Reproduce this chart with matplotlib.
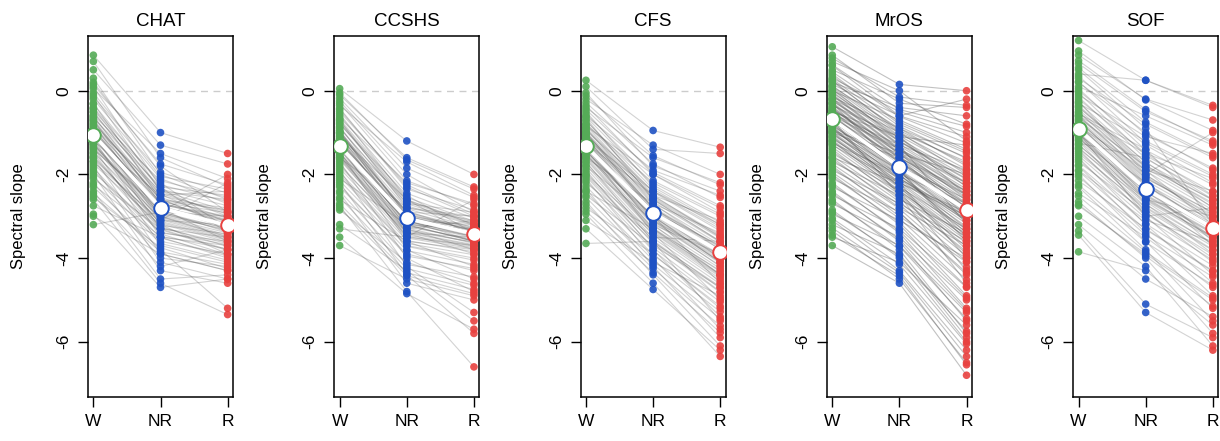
import matplotlib
matplotlib.use("Agg")
import matplotlib.pyplot as plt

plt.rcParams['font.family'] = ['Liberation Sans', 'DejaVu Sans']

studies = ["CHAT", "CCSHS", "CFS", "MrOS", "SOF"]
stages = ["W", "NR", "R"]
ytick_values = [0, -2, -4, -6]

# per-subject spectral slopes (index-aligned across stages)
chat_w = [0.85, 0.70, 0.50, 0.30, 0.20, 0.10, 0.05, -0.10, -0.20, -0.30, -0.40, -0.50, -0.60, -0.65, -0.70,
          -0.75, -0.80, -0.85, -0.90, -0.95, -1.00, -1.05, -1.10, -1.15, -1.20, -1.25, -1.30, -1.35, -1.40, -1.50,
          -1.60, -1.70, -1.80, -1.90, -2.00, -2.10, -2.20, -2.30, -2.40, -2.50, -2.60, -2.75, -2.95, -3.00, -3.20,
          -0.32, -0.45, -0.52, -0.58, -0.63, -0.72, -0.78, -0.83, -0.88, -0.93, -0.98, -1.02, -1.07, -1.12, -1.17,
          -1.22, -1.27, -1.33, -1.38, -1.44, -1.48, -1.55, -1.62, -1.68, -1.75, -0.15, -0.05, 0.15, -1.85, -1.95,
          -2.05, -2.25, -2.45, -2.55, -0.42, -0.68, -0.92, -1.08, -1.28, -1.58]
chat_nr = [-1.0, -1.6, -1.3, -2.0, -1.8, -2.3, -1.5, -2.4, -2.1, -2.6, -2.2, -2.5, -2.7, -2.3, -2.9,
           -2.6, -3.0, -2.4, -2.8, -3.1, -2.7, -3.3, -2.9, -3.5, -2.5, -3.2, -3.0, -3.7, -2.8, -3.4,
           -3.9, -3.1, -4.1, -3.6, -4.3, -3.3, -4.0, -3.8, -4.5, -4.2, -4.6, -3.5, -4.7, -3.9, -2.9,
           -2.25, -2.35, -2.45, -2.15, -2.55, -2.62, -2.48, -2.72, -2.58, -2.85, -2.66, -2.92, -2.75, -3.02, -2.82,
           -3.12, -2.95, -3.18, -2.88, -3.25, -3.05, -3.32, -3.15, -3.42, -3.22, -1.95, -2.05, -1.75, -3.52, -3.38,
           -3.65, -3.48, -3.85, -3.75, -2.38, -2.68, -2.78, -2.98, -3.08, -3.28]
chat_r = [-1.5, -2.3, -1.75, -2.6, -2.9, -2.5, -2.1, -3.0, -2.7, -2.8, -3.3, -2.9, -3.1, -3.4, -3.0,
          -3.2, -3.5, -2.6, -3.6, -3.2, -3.0, -3.8, -3.3, -3.7, -2.4, -3.9, -3.4, -4.1, -3.1, -3.6,
          -4.3, -2.2, -4.5, -3.9, -4.6, -3.5, -4.2, -5.2, -4.4, -3.8, -5.35, -4.0, -4.5, -4.3, -2.0,
          -2.65, -2.75, -2.95, -2.55, -3.05, -2.85, -3.15, -3.02, -3.25, -3.12, -2.92, -3.35, -3.22, -3.45, -3.18,
          -3.55, -3.28, -3.62, -3.38, -3.72, -3.48, -3.82, -3.58, -3.92, -3.42, -2.45, -2.35, -2.25, -3.95, -3.68,
          -4.05, -3.78, -4.15, -4.25, -2.88, -3.08, -3.28, -3.32, -3.52, -3.65]

ccshs_w = [0.05, -0.10, -0.25, -0.35, -0.45, -0.55, -0.65, -0.70, -0.80, -0.85, -0.90, -0.95, -1.00, -1.05, -1.10,
           -1.15, -1.20, -1.25, -1.30, -1.35, -1.40, -1.45, -1.50, -1.55, -1.60, -1.70, -1.80, -1.90, -2.00, -2.10,
           -2.20, -2.30, -2.45, -2.60, -2.75, -2.85, -3.20, -3.30, -3.50, -3.70, -1.00, -1.25, -0.75, -1.60, -1.20,
           -0.05, -0.18, -0.30, -0.42, -0.50, -0.60, -0.68, -0.78, -0.88, -0.98, -1.02, -1.08, -1.12, -1.18, -1.22,
           -1.28, -1.33, -1.38, -1.42, -1.48, -1.52, -1.58, -1.65, -1.75, -1.85, -1.95, -2.05, -2.15, -2.25, -2.40,
           -2.55, -2.70, -2.80, -0.95, -1.15, -1.35, -1.55, -0.72, -1.02, -1.62]
ccshs_nr = [-1.2, -1.6, -2.0, -1.7, -2.3, -2.6, -2.2, -2.8, -2.5, -3.0, -2.7, -3.2, -2.9, -3.3, -2.6,
            -3.1, -3.4, -2.9, -3.6, -3.0, -3.3, -3.8, -3.1, -3.5, -2.8, -4.0, -3.4, -4.2, -3.7, -3.2,
            -4.4, -3.9, -4.6, -3.6, -4.8, -4.1, -4.3, -3.5, -4.85, -4.5, -3.1, -3.2, -2.7, -3.4, -3.0,
            -1.65, -1.85, -2.15, -2.35, -2.25, -2.45, -2.55, -2.65, -2.75, -2.82, -2.95, -3.02, -2.88, -3.12, -3.08,
            -3.18, -3.15, -3.25, -3.22, -3.32, -3.28, -3.38, -3.45, -3.52, -3.58, -3.65, -3.72, -3.82, -3.95, -4.15,
            -4.25, -4.35, -4.42, -2.98, -3.05, -3.12, -3.35, -2.62, -2.92, -3.48]
ccshs_r = [-2.0, -2.3, -2.9, -2.5, -3.0, -3.2, -2.7, -3.1, -3.4, -3.3, -2.9, -3.6, -3.0, -3.8, -3.5,
           -3.2, -3.9, -3.3, -4.2, -3.4, -3.1, -4.5, -3.6, -3.7, -3.0, -4.8, -3.5, -5.3, -4.0, -3.3,
           -5.8, -4.3, -5.0, -3.8, -6.6, -4.6, -5.5, -2.6, -5.7, -4.9, -3.5, -3.6, -3.2, -3.7, -3.4,
           -2.35, -2.55, -2.75, -2.85, -2.95, -3.05, -3.12, -3.18, -3.22, -3.28, -3.35, -3.32, -3.38, -3.45, -3.42,
           -3.48, -3.52, -3.55, -3.58, -3.62, -3.65, -3.68, -3.72, -3.78, -3.85, -3.92, -4.05, -4.15, -4.25, -4.45,
           -4.65, -4.75, -4.85, -3.25, -3.38, -3.48, -3.62, -3.15, -3.35, -3.75]

cfs_w = [0.25, 0.10, -0.05, -0.20, -0.35, -0.50, -0.60, -0.70, -0.80, -0.90, -0.95, -1.00, -1.05, -1.10, -1.15,
         -1.20, -1.25, -1.30, -1.35, -1.40, -1.45, -1.50, -1.60, -1.70, -1.80, -1.90, -2.00, -2.10, -2.20, -2.35,
         -2.50, -2.65, -2.80, -2.95, -3.10, -3.30, -3.65, -0.40, -0.85, -1.15, -1.55, -1.00, -1.35, -0.65, -2.40,
         -0.12, -0.28, -0.45, -0.55, -0.62, -0.72, -0.78, -0.88, -0.92, -0.98, -1.02, -1.08, -1.12, -1.18, -1.22,
         -1.28, -1.32, -1.38, -1.42, -1.48, -1.52, -1.58, -1.65, -1.72, -1.78, -1.85, -1.95, -2.05, -2.15, -2.28,
         -2.42, -2.55, -2.72, -2.88, -1.05, -1.25, -1.45, -0.82, -1.62, -2.02]
cfs_nr = [-0.95, -1.4, -1.8, -1.3, -2.0, -2.3, -1.9, -2.5, -2.2, -2.7, -2.4, -2.9, -2.6, -3.1, -2.8,
          -3.0, -2.5, -3.2, -2.9, -3.4, -3.0, -3.3, -2.7, -3.6, -3.1, -3.8, -3.4, -4.0, -3.5, -4.2,
          -3.7, -4.4, -3.9, -4.6, -4.1, -4.75, -3.6, -1.6, -2.0, -2.4, -3.0, -2.8, -3.2, -2.6, -3.3,
          -1.55, -1.75, -1.95, -2.15, -2.25, -2.35, -2.42, -2.52, -2.58, -2.65, -2.72, -2.78, -2.85, -2.88, -2.95,
          -3.02, -3.05, -3.12, -3.15, -3.22, -3.28, -3.32, -3.38, -3.45, -3.52, -3.58, -3.65, -3.75, -3.82, -3.92,
          -4.05, -4.15, -4.25, -4.35, -2.82, -2.98, -3.08, -2.55, -3.35, -3.62]
cfs_r = [-1.35, -1.5, -2.4, -2.0, -2.8, -3.2, -2.5, -3.5, -3.0, -3.8, -3.3, -4.0, -3.6, -4.2, -3.9,
         -4.6, -3.1, -4.4, -3.7, -5.0, -4.1, -4.3, -3.4, -4.8, -4.0, -5.4, -4.5, -5.7, -3.6, -5.9,
         -4.7, -6.1, -5.2, -6.35, -4.9, -6.2, -5.5, -2.2, -2.9, -3.2, -4.1, -3.8, -3.9, -3.6, -4.4,
         -2.25, -2.55, -2.75, -2.95, -3.15, -3.25, -3.35, -3.45, -3.52, -3.62, -3.68, -3.75, -3.82, -3.88, -3.92,
         -3.98, -4.05, -4.12, -4.18, -4.25, -4.32, -4.38, -4.45, -4.55, -4.62, -4.72, -4.82, -4.95, -5.05, -5.15,
         -5.28, -5.45, -5.62, -5.78, -3.72, -3.95, -4.08, -3.48, -4.42, -4.68]

mros_w = [1.05, 0.85, 0.70, 0.60, 0.50, 0.40, 0.30, 0.25, 0.20, 0.10, 0.05, 0.00, -0.05, -0.10, -0.15,
          -0.20, -0.25, -0.30, -0.35, -0.40, -0.45, -0.50, -0.55, -0.60, -0.65, -0.70, -0.75, -0.80, -0.85, -0.90,
          -0.95, -1.00, -1.05, -1.10, -1.15, -1.20, -1.30, -1.40, -1.50, -1.60, -1.70, -1.80, -1.90, -2.00, -2.10,
          -2.20, -2.30, -2.40, -2.50, -2.60, -2.70, -2.85, -2.95, -3.10, -3.20, -3.35, -3.50, -3.70, -0.20, -0.45,
          -0.60, -0.85, -1.00, -0.30, 0.15, -1.25, -0.70, -0.50, -1.60, -0.95,
          0.78, 0.62, 0.45, 0.35, 0.28, 0.22, 0.12, 0.08, 0.02, -0.02, -0.08, -0.12, -0.18, -0.22, -0.28,
          -0.32, -0.38, -0.42, -0.48, -0.52, -0.58, -0.62, -0.68, -0.72, -0.78, -0.82, -0.88, -0.92, -0.98, -1.02,
          -1.08, -1.12, -1.18, -1.22, -1.28, -1.35, -1.45, -1.55, -1.65, -1.75, -1.85, -1.95, -2.05, -2.25, -2.45,
          -2.65, -2.90, -3.05, -3.28, -3.45]
mros_nr = [0.15, -0.3, 0.0, -0.6, -0.2, -0.8, -0.5, -1.0, -0.4, -0.9, -1.2, -0.7, -1.1, -1.3, -0.9,
           -1.4, -1.2, -1.5, -1.1, -1.6, -1.4, -1.7, -1.3, -1.8, -1.6, -1.9, -1.7, -2.0, -1.8, -2.1,
           -1.9, -2.2, -2.0, -2.3, -2.1, -2.4, -2.2, -2.6, -2.4, -2.8, -2.5, -3.0, -2.7, -3.2, -2.9,
           -3.4, -3.1, -3.6, -3.3, -3.8, -3.5, -4.0, -3.7, -4.3, -3.9, -4.5, -4.1, -4.6, -1.0, -1.5,
           -1.4, -2.3, -1.6, -1.9, -0.6, -2.0, -2.5, -1.1, -2.2, -1.5,
           -0.15, -0.45, -0.62, -0.75, -0.85, -0.95, -1.02, -1.08, -1.15, -1.22, -1.28, -1.32, -1.38, -1.42, -1.48,
           -1.52, -1.58, -1.62, -1.68, -1.72, -1.78, -1.82, -1.85, -1.88, -1.92, -1.95, -2.02, -2.08, -2.12, -2.18,
           -2.22, -2.28, -2.32, -2.38, -2.42, -2.48, -2.55, -2.65, -2.72, -2.82, -2.92, -3.05, -3.15, -3.35, -3.55,
           -3.72, -3.95, -4.15, -4.35, -4.42]
mros_r = [0.0, -0.4, -1.2, -0.2, -0.8, -1.5, -1.0, -2.0, -0.6, -1.8, -2.2, -1.4, -2.5, -1.9, -1.6,
          -2.6, -2.1, -2.8, -2.3, -3.0, -2.4, -2.7, -3.2, -2.9, -2.5, -3.1, -2.8, -3.4, -2.6, -3.0,
          -3.6, -2.9, -3.3, -3.8, -3.1, -3.5, -4.0, -3.4, -4.3, -3.7, -4.6, -4.1, -3.6, -4.9, -4.4,
          -5.2, -4.0, -5.5, -4.7, -5.8, -5.0, -6.0, -5.3, -6.2, -5.9, -6.5, -5.6, -6.8, -1.7, -2.5,
          -2.2, -3.3, -2.4, -3.5, -1.1, -2.7, -3.9, -1.3, -3.0, -2.0,
          -0.35, -0.85, -1.25, -1.45, -1.62, -1.75, -1.88, -1.95, -2.05, -2.12, -2.22, -2.28, -2.35, -2.42, -2.48,
          -2.55, -2.62, -2.68, -2.72, -2.78, -2.85, -2.88, -2.92, -2.98, -3.02, -3.08, -3.12, -3.18, -3.25, -3.32,
          -3.38, -3.45, -3.52, -3.58, -3.65, -3.72, -3.85, -3.95, -4.08, -4.22, -4.35, -4.52, -4.68, -4.95, -5.25,
          -5.45, -5.75, -6.05, -6.35, -6.55]

sof_w = [1.20, 0.85, 0.65, 0.40, 0.30, 0.20, 0.10, 0.00, -0.10, -0.20, -0.30, -0.40, -0.50, -0.55, -0.60,
         -0.65, -0.70, -0.75, -0.80, -0.85, -0.90, -0.95, -1.00, -1.05, -1.10, -1.15, -1.20, -1.30, -1.40, -1.50,
         -1.60, -1.70, -1.80, -1.90, -2.00, -2.15, -2.30, -2.45, -2.65, -2.75, -3.00, -3.20, -3.35, -3.45, -3.85,
         -0.25, -0.60, -1.00, 0.50, -1.25,
         0.95, 0.72, 0.55, 0.35, 0.22, 0.05, -0.05, -0.15, -0.28, -0.35, -0.45, -0.52, -0.58, -0.68, -0.72,
         -0.78, -0.82, -0.88, -0.92, -0.98, -1.02, -1.08, -1.12, -1.18, -1.28, -1.35, -1.45, -1.55, -1.65, -1.78,
         -1.92, -2.05, -2.25, -2.52, -2.72, -1.05, -0.62, -0.85, -1.38, -0.38]
sof_nr = [0.25, -0.2, -0.5, 0.25, -0.8, -1.0, -0.6, -1.3, -1.1, -1.5, -1.2, -1.7, -1.9, -1.4, -2.0,
          -1.8, -2.2, -2.1, -2.4, -1.9, -2.5, -2.3, -2.6, -2.2, -2.7, -2.4, -2.9, -2.6, -3.0, -2.8,
          -3.2, -2.9, -3.4, -3.1, -3.6, -3.3, -3.8, -3.5, -4.0, -3.9, -4.2, -4.5, -5.1, -5.3, -4.3,
          -2.0, -1.5, -3.0, -0.9, -1.6,
          -0.22, -0.45, -0.75, -1.05, -1.25, -1.42, -1.55, -1.62, -1.72, -1.78, -1.85, -1.92, -2.02, -2.08, -2.15,
          -2.22, -2.28, -2.32, -2.38, -2.42, -2.48, -2.52, -2.58, -2.62, -2.72, -2.78, -2.85, -2.95, -3.05, -3.18,
          -3.32, -3.45, -3.62, -3.85, -3.95, -2.55, -2.05, -2.25, -2.65, -1.82]
sof_r = [-0.35, -0.7, -1.2, -0.4, -1.6, -1.9, -1.3, -2.2, -1.5, -2.5, -2.0, -2.8, -2.4, -3.0, -3.1,
         -2.6, -3.3, -2.9, -3.5, -3.2, -3.4, -3.7, -3.0, -3.6, -3.9, -3.3, -4.1, -3.5, -4.4, -3.8,
         -4.6, -4.0, -4.9, -3.6, -5.2, -4.3, -5.5, -4.7, -5.8, -5.0, -6.1, -5.4, -5.9, -6.2, -5.6,
         -1.0, -2.1, -2.8, -3.2, -2.6,
         -0.95, -1.25, -1.55, -1.85, -2.05, -2.25, -2.42, -2.52, -2.62, -2.72, -2.78, -2.85, -2.92, -2.98, -3.05,
         -3.12, -3.18, -3.22, -3.28, -3.32, -3.38, -3.42, -3.48, -3.55, -3.65, -3.72, -3.82, -3.92, -4.05, -4.18,
         -4.32, -4.45, -4.65, -4.95, -5.15, -3.52, -3.02, -3.25, -3.68, -2.68]

# stage means
mean_w = [-1.05, -1.32, -1.33, -0.68, -0.92]
mean_nr = [-2.80, -3.05, -2.92, -1.82, -2.35]
mean_r = [-3.22, -3.42, -3.85, -2.85, -3.28]

subjects = {
    "CHAT": (chat_w, chat_nr, chat_r),
    "CCSHS": (ccshs_w, ccshs_nr, ccshs_r),
    "CFS": (cfs_w, cfs_nr, cfs_r),
    "MrOS": (mros_w, mros_nr, mros_r),
    "SOF": (sof_w, sof_nr, sof_r),
}

stage_colors = ["#55AB57", "#1F52C4", "#E8413F"]
line_alpha = {"CHAT": 0.26, "CCSHS": 0.26, "CFS": 0.26, "MrOS": 0.36, "SOF": 0.26}

W, H = 1220, 441
fig = plt.figure(figsize=(W / 100, H / 100), dpi=100)

left0 = 88
step = 246.3
box_w = 145
top_px, bot_px = 35.5, 397

for i, name in enumerate(studies):
    lx = left0 + i * step
    ax = fig.add_axes([lx / W, 1 - bot_px / H, box_w / W, (bot_px - top_px) / H])
    sw, snr, sr = subjects[name]
    xs = [1, 2, 3]
    ax.axhline(0, color="#cccccc", lw=1.0, ls=(0, (5, 4)), zorder=1)
    for a, b, c in zip(sw, snr, sr):
        ax.plot(xs, [a, b, c], color="#555555", lw=0.8, alpha=line_alpha[name], zorder=2)
    for k, vals in enumerate((sw, snr, sr)):
        ax.scatter([xs[k]] * len(vals), vals, s=30, color=stage_colors[k], alpha=0.9,
                   edgecolors="none", zorder=3)
    means = [mean_w[i], mean_nr[i], mean_r[i]]
    ax.plot(xs, means, color="white", lw=2.6, zorder=4)
    for k in range(3):
        ax.scatter([xs[k]], [means[k]], s=110, facecolor="white", edgecolor=stage_colors[k],
                   linewidth=1.4, zorder=5)
    ax.set_xlim(0.92, 3.08)
    ax.set_ylim(-7.32, 1.32)
    ax.set_xticks(xs)
    ax.set_xticklabels(stages, fontsize=12.5)
    ax.set_yticks(ytick_values)
    ax.set_yticklabels([str(v) for v in ytick_values], fontsize=12.5, rotation=90, va="center")
    ax.tick_params(axis="both", length=7, width=1.0, direction="out", color="black")
    ax.tick_params(axis="x", pad=5)
    ax.tick_params(axis="y", pad=5)
    for sp in ax.spines.values():
        sp.set_linewidth(1.1)
    ax.set_title(name, fontsize=13.5, pad=7)
    ax.set_ylabel("Spectral slope", fontsize=12)
    ax.yaxis.set_label_coords(-0.43, 0.5)

fig.savefig("out.png", dpi=100)
